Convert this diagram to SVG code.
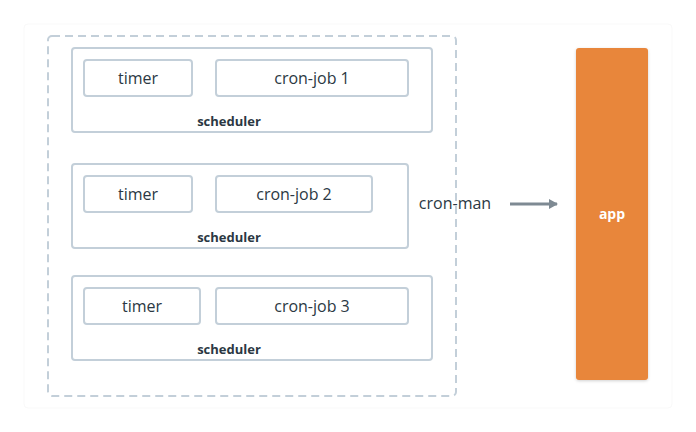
<svg xmlns="http://www.w3.org/2000/svg" width="696" height="432" viewBox="0 0 696 432">
<defs>
<style>
.box{fill:#fff;stroke:#c3cfd9;stroke-width:2}
.t{font-family:"Open Sans","Noto Sans",sans-serif;font-size:16px;fill:#2b3843;text-anchor:middle}
.lbl{font-family:"Open Sans","Noto Sans",sans-serif;font-size:13px;font-weight:bold;fill:#2b3843;text-anchor:middle}
</style>
<marker id="ah" markerWidth="10" markerHeight="10" refX="8" refY="5" orient="auto" markerUnits="userSpaceOnUse">
<path d="M0,0 L9,5 L0,10 Z" fill="#7e8a93"/>
</marker>
<filter id="sh" x="-20%" y="-10%" width="140%" height="120%">
<feDropShadow dx="0" dy="1" stdDeviation="1.5" flood-color="#000" flood-opacity="0.18"/>
</filter>
</defs>
<rect x="0" y="0" width="696" height="432" fill="#fff"/>
<rect x="24" y="24" width="648" height="384" rx="4" fill="none" stroke="#f9f9f9" stroke-width="1"/>
<g id="cron-man">
<rect x="48" y="36" width="408" height="360" rx="4" fill="none" stroke="#c3cfd9" stroke-width="2" stroke-dasharray="8,5"/>
<text class="t" x="455" y="209">cron-man</text>
</g>
<g id="scheduler1">
<rect class="box" x="72" y="48" width="360" height="84" rx="3"/>
<text class="lbl" x="229" y="126">scheduler</text>
</g>
<g id="timer1"><rect class="box" x="84" y="60" width="108" height="36" rx="3"/><text class="t" x="138" y="84">timer</text></g>
<g id="cronjob1"><rect class="box" x="216" y="60" width="192" height="36" rx="3"/><text class="t" x="312" y="84">cron-job 1</text></g>
<g id="scheduler2">
<rect class="box" x="72" y="164" width="336" height="84" rx="3"/>
<text class="lbl" x="229" y="242">scheduler</text>
</g>
<g id="timer2"><rect class="box" x="84" y="176" width="108" height="36" rx="3"/><text class="t" x="138" y="200">timer</text></g>
<g id="cronjob2"><rect class="box" x="216" y="176" width="156" height="36" rx="3"/><text class="t" x="294" y="200">cron-job 2</text></g>
<g id="scheduler3">
<rect class="box" x="72" y="276" width="360" height="84" rx="3"/>
<text class="lbl" x="229" y="354">scheduler</text>
</g>
<g id="timer3"><rect class="box" x="84" y="288" width="116" height="36" rx="3"/><text class="t" x="142" y="312">timer</text></g>
<g id="cronjob3"><rect class="box" x="216" y="288" width="192" height="36" rx="3"/><text class="t" x="312" y="312">cron-job 3</text></g>
<g id="app">
<rect x="576" y="48" width="72" height="332" rx="3" fill="#e8863a" filter="url(#sh)"/>
<text x="612" y="219" font-family="'Open Sans','Noto Sans',sans-serif" font-size="14" font-weight="bold" fill="#fff" text-anchor="middle">app</text>
</g>
<g id="connectors">
<line x1="510" y1="204" x2="557" y2="204" stroke="#7e8a93" stroke-width="3" marker-end="url(#ah)"/>
</g>
</svg>
